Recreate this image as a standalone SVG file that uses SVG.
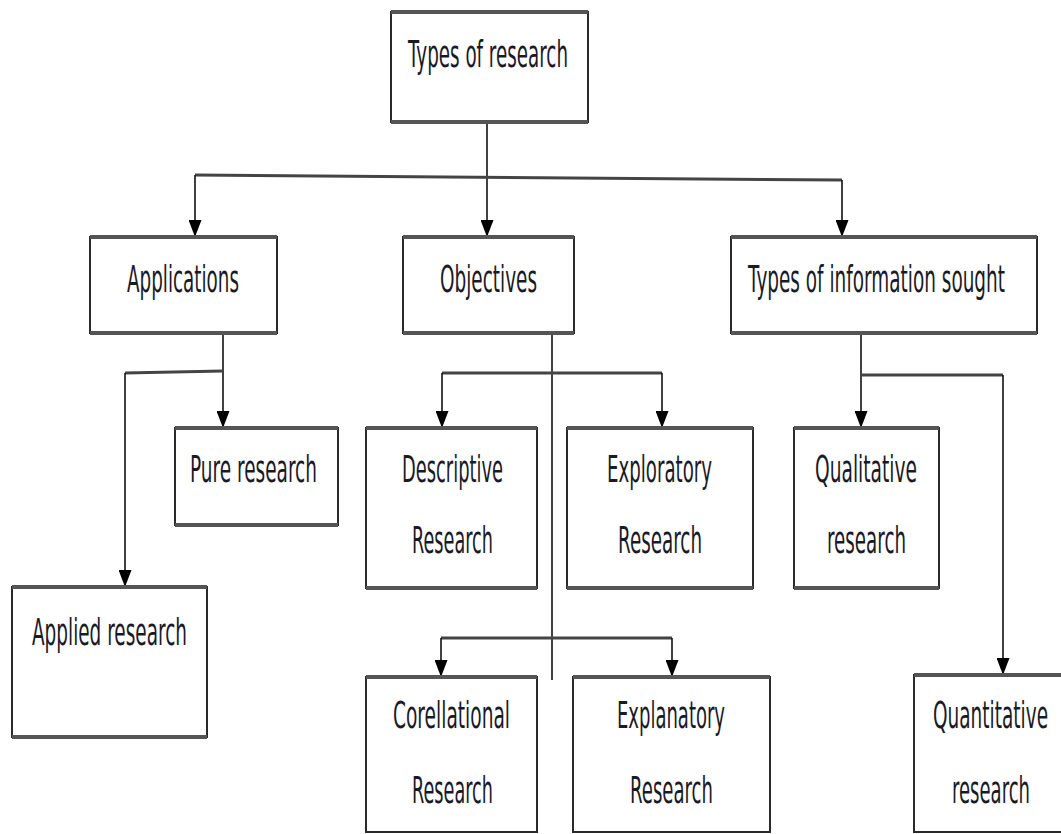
<svg xmlns="http://www.w3.org/2000/svg" width="1061" height="834" viewBox="0 0 1061 834">
<style>
  .box{fill:#fff;stroke:#2a2a2a;stroke-width:2}
  .edge{stroke:#555;stroke-width:4;fill:none}
  .t{font-family:"DejaVu Sans",Verdana,sans-serif;font-size:38px;fill:#1a1a26}
  .v{stroke:#111;stroke-width:1.6;fill:none}
  .h{stroke:#444;stroke-width:3;fill:none}
</style>
<defs>
  <marker id="arr" markerUnits="userSpaceOnUse" markerWidth="17" markerHeight="13" refX="17" refY="6.5" orient="auto">
    <path d="M0,0 L17,6.5 L0,13 z" fill="#000"/>
  </marker>
</defs>
<g id="connectors">
  <path class="v" d="M487,122 V237" marker-end="url(#arr)"/>
  <path class="h" d="M195,175 L842,180"/>
  <path class="v" d="M195,175 V237" marker-end="url(#arr)"/>
  <path class="v" d="M842,180 V237" marker-end="url(#arr)"/>
  <path class="v" d="M223,333 V428" marker-end="url(#arr)"/>
  <path class="h" d="M125,373 L223,371"/>
  <path class="v" d="M125,373 V587" marker-end="url(#arr)"/>
  <path class="v" d="M552,333 V680"/>
  <path class="h" d="M442,373 H662"/>
  <path class="v" d="M442,373 V428" marker-end="url(#arr)"/>
  <path class="v" d="M662,373 V428" marker-end="url(#arr)"/>
  <path class="h" d="M441,638 H672"/>
  <path class="v" d="M441,638 V677" marker-end="url(#arr)"/>
  <path class="v" d="M672,638 V677" marker-end="url(#arr)"/>
  <path class="v" d="M861,333 V428" marker-end="url(#arr)"/>
  <path class="h" d="M861,375 H1003"/>
  <path class="v" d="M1003,375 V675" marker-end="url(#arr)"/>
</g>
<g id="root">
  <rect class="box" x="391" y="12" width="197" height="110"/>
  <path class="edge" d="M391,12 H588 M391,122 H588"/>
  <text class="t" transform="translate(408,67) scale(0.45,1)" textLength="355.6" lengthAdjust="spacingAndGlyphs">Types of research</text>
</g>
<g id="applications">
  <rect class="box" x="90" y="237" width="187" height="96"/>
  <path class="edge" d="M90,237 H277 M90,333 H277"/>
  <text class="t" transform="translate(127,292) scale(0.45,1)" textLength="248.9" lengthAdjust="spacingAndGlyphs">Applications</text>
</g>
<g id="objectives">
  <rect class="box" x="403" y="237" width="171" height="96"/>
  <path class="edge" d="M403,237 H574 M403,333 H574"/>
  <text class="t" transform="translate(440,292) scale(0.45,1)" textLength="215.6" lengthAdjust="spacingAndGlyphs">Objectives</text>
</g>
<g id="info">
  <rect class="box" x="731" y="237" width="306" height="96"/>
  <path class="edge" d="M731,237 H1037 M731,333 H1037"/>
  <text class="t" transform="translate(748,292) scale(0.45,1)" textLength="571.1" lengthAdjust="spacingAndGlyphs">Types of information sought</text>
</g>
<g id="pure">
  <rect class="box" x="175" y="428" width="163" height="97"/>
  <path class="edge" d="M175,428 H338 M175,525 H338"/>
  <text class="t" transform="translate(190,482) scale(0.45,1)" textLength="282.2" lengthAdjust="spacingAndGlyphs">Pure research</text>
</g>
<g id="applied">
  <rect class="box" x="12" y="587" width="195" height="150"/>
  <path class="edge" d="M12,587 H207 M12,737 H207"/>
  <text class="t" transform="translate(32,645) scale(0.45,1)" textLength="344.4" lengthAdjust="spacingAndGlyphs">Applied research</text>
</g>
<g id="descriptive">
  <rect class="box" x="366" y="428" width="171" height="160"/>
  <path class="edge" d="M366,428 H537 M366,588 H537"/>
  <text class="t" transform="translate(402,482) scale(0.45,1)" textLength="224.4" lengthAdjust="spacingAndGlyphs">Descriptive</text>
  <text class="t" transform="translate(412,553) scale(0.45,1)" textLength="180" lengthAdjust="spacingAndGlyphs">Research</text>
</g>
<g id="exploratory">
  <rect class="box" x="567" y="428" width="186" height="160"/>
  <path class="edge" d="M567,428 H753 M567,588 H753"/>
  <text class="t" transform="translate(607,482) scale(0.45,1)" textLength="233.3" lengthAdjust="spacingAndGlyphs">Exploratory</text>
  <text class="t" transform="translate(618,553) scale(0.45,1)" textLength="186.7" lengthAdjust="spacingAndGlyphs">Research</text>
</g>
<g id="corellational">
  <rect class="box" x="366" y="677" width="171" height="155"/>
  <path class="edge" d="M366,677 H537"/>
  <text class="t" transform="translate(393,728) scale(0.45,1)" textLength="260" lengthAdjust="spacingAndGlyphs">Corellational</text>
  <text class="t" transform="translate(412,803) scale(0.45,1)" textLength="180" lengthAdjust="spacingAndGlyphs">Research</text>
</g>
<g id="explanatory">
  <rect class="box" x="573" y="677" width="197" height="155"/>
  <path class="edge" d="M573,677 H770"/>
  <text class="t" transform="translate(617,728) scale(0.45,1)" textLength="240" lengthAdjust="spacingAndGlyphs">Explanatory</text>
  <text class="t" transform="translate(630,803) scale(0.45,1)" textLength="184.4" lengthAdjust="spacingAndGlyphs">Research</text>
</g>
<g id="qualitative">
  <rect class="box" x="794" y="428" width="145" height="160"/>
  <path class="edge" d="M794,428 H939 M794,588 H939"/>
  <text class="t" transform="translate(815,482) scale(0.45,1)" textLength="226.7" lengthAdjust="spacingAndGlyphs">Qualitative</text>
  <text class="t" transform="translate(827,553) scale(0.45,1)" textLength="175.6" lengthAdjust="spacingAndGlyphs">research</text>
</g>
<g id="quantitative">
  <rect class="box" x="914" y="675" width="160" height="157"/>
  <path class="edge" d="M914,675 H1061"/>
  <text class="t" transform="translate(933,728) scale(0.45,1)" textLength="255.6" lengthAdjust="spacingAndGlyphs">Quantitative</text>
  <text class="t" transform="translate(952,803) scale(0.45,1)" textLength="173.3" lengthAdjust="spacingAndGlyphs">research</text>
</g>
</svg>
